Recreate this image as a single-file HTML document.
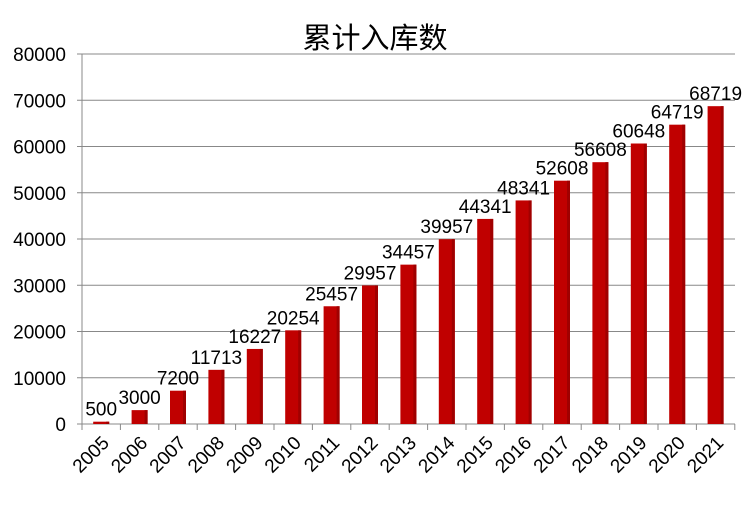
<!DOCTYPE html><html><head><meta charset="utf-8"><style>body{margin:0;background:#fff}</style></head><body>
<svg width="747" height="501" xmlns="http://www.w3.org/2000/svg" font-family="Liberation Sans, Noto Sans CJK SC, sans-serif">
<text x="375" y="48" font-size="29" text-anchor="middle" font-family="Noto Sans CJK SC, sans-serif">累计入库数</text>
<g id="g"></g>
</svg>
<script>
const g=document.getElementById('g');let s='';
const vals=[500,3000,7200,11713,16227,20254,25457,29957,34457,39957,44341,48341,52608,56608,60648,64719,68719];
const y0=424,k=370/80000,x0=82,w=38.4;
for(let i=0;i<=8;i++){const y=y0-i*10000*k;s+=`<line x1="77" x2="735" y1="${y}" y2="${y}" stroke="#888" stroke-width="1"/>`;s+=`<text x="66" y="${y+7}" font-size="19" text-anchor="end">${i*10000}</text>`;}
s+=`<line x1="82" x2="82" y1="54" y2="429" stroke="#888"/>`;
for(let i=0;i<=17;i++){const x=x0+i*w;s+=`<line x1="${x}" x2="${x}" y1="424" y2="430" stroke="#888"/>`;}
vals.forEach((v,i)=>{const c=x0+(i+.5)*w,h=v*k;s+=`<rect x="${c-8}" y="${y0-h}" width="16" height="${h}" fill="#c00000"/><rect x="${c+5}" y="${y0-h}" width="3" height="${h}" fill="#a00000"/>`;
s+=`<text x="${c}" y="${y0-h-6}" font-size="19" text-anchor="middle">${v}</text>`;
s+=`<text transform="translate(${c+9},444) rotate(-45)" font-size="19" text-anchor="end">${2005+i}</text>`;});
g.innerHTML=s;
</script></body></html>
